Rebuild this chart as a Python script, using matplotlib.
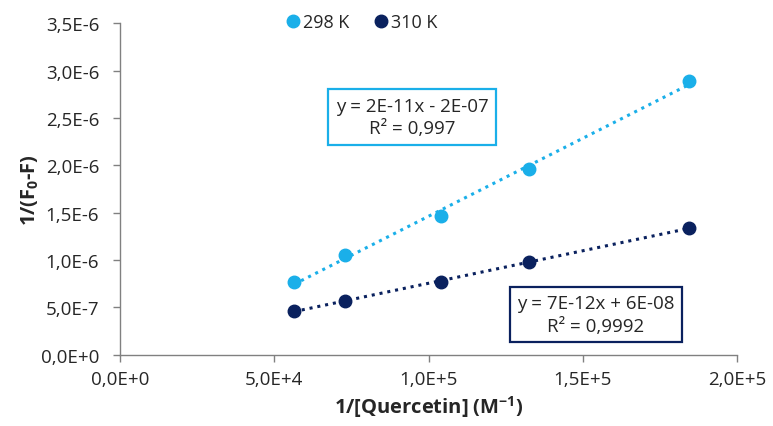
import numpy as np
import matplotlib
matplotlib.use("Agg")
import matplotlib.pyplot as plt

plt.rcParams['font.family'] = ['Open Sans', 'DejaVu Sans']

# Double-reciprocal data: 1/[Quercetin] (M^-1) vs 1/(F0 - F)
inv_conc = [56400, 72900, 104000, 132600, 184400]
inv_dF_298 = [0.765e-6, 1.053e-6, 1.465e-6, 1.961e-6, 2.893e-6]
inv_dF_310 = [0.465e-6, 0.567e-6, 0.765e-6, 0.982e-6, 1.338e-6]

series_labels = ["298 K", "310 K"]
eq_298 = "y = 2E-11x - 2E-07\nR² = 0,997"
eq_310 = "y = 7E-12x + 6E-08\nR² = 0,9992"

x_ticks = [0, 5e4, 1e5, 1.5e5, 2e5]
x_tick_labels = ["0,0E+0", "5,0E+4", "1,0E+5", "1,5E+5", "2,0E+5"]
y_ticks = [0, 5e-7, 1e-6, 1.5e-6, 2e-6, 2.5e-6, 3e-6, 3.5e-6]
y_tick_labels = ["0,0E+0", "5,0E-7", "1,0E-6", "1,5E-6", "2,0E-6",
                 "2,5E-6", "3,0E-6", "3,5E-6"]

c298 = "#1AAFE9"
c310 = "#0A215E"
txt = "#262626"

fig = plt.figure(figsize=(7.73, 4.27), dpi=100)
ax = fig.add_axes([120 / 773, 1 - 355.7 / 427, (737 - 120) / 773, (355.7 - 24.3) / 427])

x = np.array(inv_conc)
for ys, col, lab in [(inv_dF_298, c298, series_labels[0]), (inv_dF_310, c310, series_labels[1])]:
    ys = np.array(ys)
    k, b = np.polyfit(x, ys, 1)
    xf = np.array([x.min(), x.max()])
    ax.plot(xf, k * xf + b, linestyle=(0, (1, 1.6)), color=col, lw=2.2, zorder=2)
    ax.plot(x, ys, 'o', color=col, ms=9, mec=col, label=lab, zorder=3)

ax.set_xlim(0, 2e5)
ax.set_ylim(0, 3.5e-6)
ax.set_xticks(x_ticks)
ax.set_xticklabels(x_tick_labels)
ax.set_yticks(y_ticks)
ax.set_yticklabels(y_tick_labels)

for s in ['top', 'right']:
    ax.spines[s].set_visible(False)
for s in ['left', 'bottom']:
    ax.spines[s].set_color('#808080')
    ax.spines[s].set_linewidth(1.0)
ax.tick_params(axis='both', direction='out', length=5, width=1, color='#808080',
               labelsize=13.5, labelcolor=txt)
ax.tick_params(axis='y', pad=10)
ax.tick_params(axis='x', pad=6)

ax.set_xlabel("1/[Quercetin] (M$^{\\mathregular{-1}}$)", fontsize=14.5, fontweight='bold',
              color=txt, labelpad=4)
ax.set_ylabel("1/(F$_{\\mathregular{0}}$-F)", fontsize=14.5, fontweight='bold',
              color=txt)
ax.yaxis.set_label_coords(-(120 - 41) / 617, 0.5)

leg = fig.legend(loc='center', bbox_to_anchor=(361 / 773, 1 - 23 / 427), ncol=2,
                 frameon=False, fontsize=13, handletextpad=0.05, columnspacing=1.25,
                 markerscale=1.0, handlelength=1.0, labelcolor=txt)

ax.text(412 / 773, 1 - 118 / 427, eq_298, transform=fig.transFigure, ha='center', va='center',
        fontsize=13.5, color=txt, linespacing=1.3,
        bbox=dict(boxstyle='square,pad=0.4', fc='white', ec=c298, lw=1.6))
ax.text(596 / 773, 1 - 315.5 / 427, eq_310, transform=fig.transFigure, ha='center', va='center',
        fontsize=13.5, color=txt, linespacing=1.3,
        bbox=dict(boxstyle='square,pad=0.4', fc='white', ec=c310, lw=1.6))

fig.savefig("out.png", dpi=100)
